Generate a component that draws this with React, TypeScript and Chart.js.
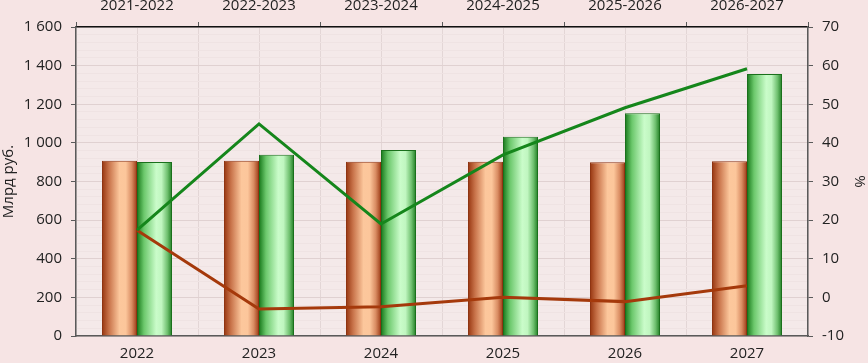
import React, { useEffect, useRef } from 'react';
import { Chart, registerables } from 'chart.js';
Chart.register(...registerables);

const years = ['2022', '2023', '2024', '2025', '2026', '2027'];
const periods = ['2021-2022', '2022-2023', '2023-2024', '2024-2025', '2025-2026', '2026-2027'];
const orangeBars = [907, 907, 902, 902, 900, 905];
const greenBars = [901, 939, 963, 1032, 1153, 1357];
const greenLine = [17.4, 44.9, 19.0, 36.9, 49.1, 59.2];
const brownLine = [17.4, -3.0, -2.4, 0.0, -1.1, 3.0];
const leftTitle = 'Млрд руб.';
const rightTitle = '%';

const CAT_PCT = 0.574;
const FONT = "'Open Sans', 'Liberation Sans', sans-serif";
const TEXT = '#222222';
const AXIS = '#5a5a5a';

const orangeStops: [number, string][] = [
  [0, '#96350f'],
  [0.2, '#c8734a'],
  [0.5, '#fcc79c'],
  [0.68, '#fcc69b'],
  [0.85, '#d98c62'],
  [1, '#9b3a15'],
];
const greenStops: [number, string][] = [
  [0, '#17781a'],
  [0.2, '#6cc86c'],
  [0.55, '#cafcca'],
  [0.7, '#c0f6c0'],
  [0.87, '#6fc06f'],
  [1, '#1f7d22'],
];

function fmt(v: number) {
  const s = String(Math.abs(v));
  const out = s.replace(/\B(?=(\d{3})+(?!\d))/g, ' ');
  return (v < 0 ? '-' : '') + out;
}

function makeGradient(ctx: any, stops: [number, string][], side: number) {
  const chart = ctx.chart;
  const xs = chart.scales && chart.scales.x;
  if (!xs || ctx.dataIndex == null || !isFinite(xs.left) || xs.right <= xs.left) return stops[2][1];
  const center = xs.getPixelForValue(ctx.dataIndex);
  const catW = (xs.right - xs.left) / years.length;
  const w = (catW * CAT_PCT) / 2;
  const x0 = side === 0 ? center - w : center;
  const g = chart.ctx.createLinearGradient(x0, 0, x0 + w, 0);
  stops.forEach(([o, c]) => g.addColorStop(o, c));
  return g;
}

const bgPlugin = {
  id: 'bgPlugin',
  beforeDraw(chart: any) {
    const { ctx, chartArea } = chart;
    ctx.save();
    ctx.fillStyle = '#f6e4e4';
    ctx.fillRect(0, 0, chart.width, chart.height);
    ctx.fillStyle = '#f4e9e9';
    ctx.fillRect(chartArea.left, chartArea.top, chartArea.right - chartArea.left, chartArea.bottom - chartArea.top);
    ctx.restore();
  },
};

export default function App() {
  const ref = useRef<HTMLCanvasElement | null>(null);
  useEffect(() => {
    if (!ref.current) return;
    const chart = new Chart(ref.current, {
      type: 'bar',
      data: {
        labels: years,
        datasets: [
          {
            type: 'line',
            data: greenLine,
            yAxisID: 'y1',
            xAxisID: 'x',
            borderColor: '#15861b',
            borderWidth: 3,
            pointRadius: 0,
            tension: 0,
            order: 0,
          } as any,
          {
            type: 'line',
            data: brownLine,
            yAxisID: 'y1',
            xAxisID: 'x',
            borderColor: '#a5390b',
            borderWidth: 3,
            pointRadius: 0,
            tension: 0,
            order: 0,
          } as any,
          {
            type: 'bar',
            data: orangeBars,
            yAxisID: 'y',
            xAxisID: 'x',
            backgroundColor: (c: any) => makeGradient(c, orangeStops, 0),
            borderColor: '#8e3412',
            borderWidth: 1,
            barPercentage: 1,
            categoryPercentage: CAT_PCT,
            order: 1,
          } as any,
          {
            type: 'bar',
            data: greenBars,
            yAxisID: 'y',
            xAxisID: 'x',
            backgroundColor: (c: any) => makeGradient(c, greenStops, 1),
            borderColor: '#1a701c',
            borderWidth: 1,
            barPercentage: 1,
            categoryPercentage: CAT_PCT,
            order: 1,
          } as any,
        ],
      },
      options: {
        animation: false,
        responsive: false,
        devicePixelRatio: 1,
        layout: { padding: 0 },
        plugins: { legend: { display: false }, tooltip: { enabled: false } },
        font: { family: FONT, size: 15 },
        scales: {
          x: {
            type: 'category',
            position: 'bottom',
            offset: true,
            grid: { offset: false, drawTicks: false, color: '#e3d6d6', lineWidth: 1 },
            border: { color: AXIS, width: 1.5 },
            ticks: { color: TEXT, font: { family: FONT, size: 15 }, padding: 9, maxRotation: 0 },
            afterFit: (s: any) => { s.height = 27; },
          },
          x2: {
            type: 'category',
            labels: periods,
            position: 'top',
            offset: true,
            grid: { offset: true, color: '#e3d6d6', tickColor: AXIS, tickLength: 5 },
            border: { color: '#111111', width: 1.5 },
            ticks: { color: TEXT, font: { family: FONT, size: 15 }, padding: 7, maxRotation: 0 },
            afterFit: (s: any) => { s.height = 27; },
          },
          y: {
            type: 'linear',
            position: 'left',
            min: 0,
            max: 1600,
            ticks: {
              stepSize: 40,
              autoSkip: false,
              color: TEXT,
              font: { family: FONT, size: 15 },
              padding: 9,
              callback: (v: any) => (Math.round(v) % 200 === 0 ? fmt(Math.round(v)) : ''),
            },
            grid: {
              color: (c: any) => (c.tick && Math.round(c.tick.value) % 200 === 0 ? '#e0d1d1' : '#efe3e3'),
              tickColor: (c: any) => (c.tick && Math.round(c.tick.value) % 200 === 0 ? AXIS : 'rgba(0,0,0,0)'),
              tickLength: 5,
            },
            border: { color: AXIS, width: 1.5 },
            title: {
              display: true,
              text: leftTitle,
              color: TEXT,
              font: { family: FONT, size: 15 },
              padding: { top: 0, bottom: 0 },
            },
            afterFit: (s: any) => { s.width = 76; },
          },
          y1: {
            type: 'linear',
            position: 'right',
            min: -10,
            max: 70,
            ticks: { stepSize: 10, color: TEXT, font: { family: FONT, size: 15 }, padding: 9, callback: (v: any) => fmt(Math.round(v)) },
            grid: { drawOnChartArea: false, tickColor: AXIS, tickLength: 5 },
            border: { color: AXIS, width: 1.5 },
            title: {
              display: true,
              text: rightTitle,
              color: TEXT,
              font: { family: FONT, size: 15 },
              padding: { top: 0, bottom: 0 },
            },
            afterFit: (s: any) => { s.width = 60; },
          },
        },
      } as any,
      plugins: [bgPlugin],
    });
    return () => chart.destroy();
  }, []);
  return (
    <div style={{ position: 'fixed', left: 0, top: 0, width: 868, height: 363 }}>
      <canvas ref={ref} width={868} height={363} style={{ display: 'block', width: 868, height: 363 }} />
    </div>
  );
}
